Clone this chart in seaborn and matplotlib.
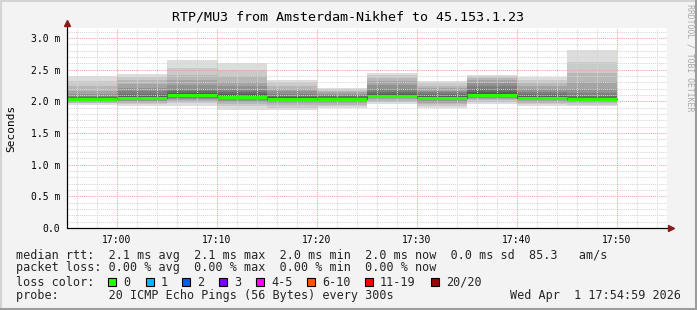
import numpy as np
import pandas as pd
import matplotlib
matplotlib.use("Agg")
import matplotlib.pyplot as plt
import seaborn as sns
from matplotlib.lines import Line2D
from matplotlib.patches import Rectangle

# ---------------- data ----------------
title = "RTP/MU3 from Amsterdam-Nikhef to 45.153.1.23"
y_label = "Seconds"
bar_start_min = [-5, 0, 5, 10, 15, 20, 25, 30, 35, 40, 45]   # minutes relative to 17:00
bar_len_min = 5

# 20 sorted ping RTTs (ms) per 5-minute step
pings_ms = [
    [1.95, 1.97, 1.98, 1.99, 2.00, 2.01, 2.01, 2.02, 2.02, 2.03, 2.03, 2.04, 2.05, 2.07, 2.09, 2.12, 2.17, 2.24, 2.32, 2.40],
    [1.93, 1.96, 1.98, 2.00, 2.01, 2.02, 2.03, 2.04, 2.05, 2.06, 2.06, 2.07, 2.09, 2.12, 2.16, 2.21, 2.27, 2.33, 2.39, 2.43],
    [1.93, 1.97, 2.00, 2.02, 2.04, 2.06, 2.07, 2.08, 2.09, 2.10, 2.10, 2.11, 2.13, 2.16, 2.20, 2.26, 2.33, 2.42, 2.52, 2.65],
    [1.86, 1.92, 1.96, 1.99, 2.01, 2.03, 2.04, 2.05, 2.06, 2.07, 2.07, 2.09, 2.11, 2.14, 2.18, 2.24, 2.31, 2.40, 2.50, 2.61],
    [1.86, 1.90, 1.94, 1.97, 1.99, 2.00, 2.01, 2.02, 2.03, 2.04, 2.04, 2.05, 2.07, 2.09, 2.12, 2.16, 2.20, 2.25, 2.30, 2.34],
    [1.89, 1.92, 1.95, 1.97, 1.99, 2.00, 2.01, 2.02, 2.03, 2.04, 2.04, 2.05, 2.06, 2.08, 2.10, 2.12, 2.14, 2.16, 2.19, 2.21],
    [1.96, 1.99, 2.01, 2.03, 2.05, 2.06, 2.07, 2.08, 2.08, 2.09, 2.09, 2.10, 2.12, 2.15, 2.20, 2.26, 2.32, 2.37, 2.42, 2.45],
    [1.89, 1.93, 1.96, 1.98, 2.00, 2.02, 2.03, 2.04, 2.05, 2.06, 2.06, 2.07, 2.09, 2.11, 2.14, 2.17, 2.21, 2.25, 2.29, 2.32],
    [1.96, 1.99, 2.02, 2.04, 2.06, 2.07, 2.08, 2.09, 2.09, 2.10, 2.10, 2.12, 2.15, 2.19, 2.24, 2.29, 2.33, 2.37, 2.40, 2.42],
    [1.93, 1.96, 1.98, 2.00, 2.02, 2.03, 2.04, 2.04, 2.05, 2.05, 2.05, 2.06, 2.08, 2.11, 2.15, 2.20, 2.25, 2.29, 2.34, 2.39],
    [1.92, 1.95, 1.97, 1.99, 2.00, 2.01, 2.02, 2.02, 2.03, 2.03, 2.03, 2.04, 2.06, 2.09, 2.13, 2.20, 2.31, 2.45, 2.62, 2.81],
]
median_ms = [2.03, 2.06, 2.10, 2.07, 2.04, 2.04, 2.09, 2.06, 2.10, 2.05, 2.03]

x_ticks = [0, 10, 20, 30, 40, 50]
x_tick_labels = ["17:00", "17:10", "17:20", "17:30", "17:40", "17:50"]
y_ticks = [0.0, 0.5, 1.0, 1.5, 2.0, 2.5, 3.0]
y_tick_labels = ["0.0", "0.5 m", "1.0 m", "1.5 m", "2.0 m", "2.5 m", "3.0 m"]

line_rtt = "median rtt:  2.1 ms avg  2.1 ms max  2.0 ms min  2.0 ms now  0.0 ms sd  85.3   am/s"
line_loss = "packet loss: 0.00 % avg  0.00 % max  0.00 % min  0.00 % now"
line_lc = "loss color:"
loss_labels = ["0", "1", "2", "3", "4-5", "6-10", "11-19", "20/20"]
loss_colors = ["#26ff00", "#00b8ff", "#0059ff", "#7e00ff", "#ff00ff", "#ff5500", "#ff0000", "#a10000"]
line_probe = "probe:       20 ICMP Echo Pings (56 Bytes) every 300s"
timestamp = "Wed Apr  1 17:54:59 2026"
credit = "RRDTOOL / TOBI OETIKER"

# ---------------- figure ----------------
W, H = 697, 310
sns.set_style("white")
plt.rcParams["font.family"] = ["DejaVu Sans Mono", "DejaVu Sans"]

fig = plt.figure(figsize=(W / 100, H / 100), dpi=100, facecolor="#f3f3f3")

def fx(x):
    return x / W

def fy(y):
    return 1 - y / H

L, R, T, B = 67, 667, 28, 228
ax = fig.add_axes([fx(L), fy(B), (R - L) / W, (B - T) / H])
ax.set_facecolor("white")
ymax = (B - T) / 63.33
ax.set_xlim(-5, 55)
ax.set_ylim(0, ymax)

# smoke
P = np.sort(np.array(pings_ms), axis=1)
n = P.shape[1]
half = n // 2
edges = np.array(bar_start_min + [bar_start_min[-1] + bar_len_min], dtype=float)
for i in range(half):
    shade = int(190 / half * (half - (i + 1))) + 50
    col = "#%02x%02x%02x" % (shade, shade, shade)
    lo = np.append(P[:, i], P[-1, i])
    hi = np.append(P[:, n - 1 - i], P[-1, n - 1 - i])
    ax.fill_between(edges, lo, hi, step="post", color=col, lw=0, zorder=1)

# grid (drawn over smoke, as in rrdtool)
minor_kw = dict(color="#d6d6d6", lw=0.75, ls=(0, (1, 1)), zorder=2)
major_kw = dict(color="#f2a0a0", lw=0.75, ls=(0, (1, 1)), zorder=2)
for k in range(1, int(ymax * 10) + 1):
    v = k / 10
    if k % 5 == 0:
        ax.axhline(v, **major_kw)
    else:
        ax.axhline(v, **minor_kw)
for m in range(-4, 55, 2):
    if m % 10 == 0:
        ax.axvline(m, **major_kw)
    else:
        ax.axvline(m, **minor_kw)

# median: thin dark step line + loss-coloured segments
med_ext = np.append(median_ms, median_ms[-1])
sns.lineplot(x=edges, y=med_ext, drawstyle="steps-post", color="#202020",
             lw=0.75, estimator=None, ax=ax, zorder=4, legend=False)
seg = pd.DataFrame({
    "t": np.concatenate([[s, s + bar_len_min] for s in bar_start_min]),
    "ms": np.repeat(median_ms, 2),
    "bar": np.repeat(np.arange(len(median_ms)), 2),
})
sns.lineplot(data=seg, x="t", y="ms", units="bar", estimator=None, color=loss_colors[0],
             lw=2.2, ax=ax, zorder=5, legend=False, solid_capstyle="butt")

# axes styling
for s in ["top", "right"]:
    ax.spines[s].set_visible(False)
for s in ["left", "bottom"]:
    ax.spines[s].set_color("black")
    ax.spines[s].set_linewidth(0.8)
    ax.spines[s].set_zorder(6)
ax.set_xticks(x_ticks, x_tick_labels)
ax.set_yticks(y_ticks, y_tick_labels)
ax.tick_params(axis="both", direction="out", length=2, width=0.7, labelsize=7,
               colors="black", pad=3)
ax.set_xlabel("")
ax.set_ylabel("")

# axis arrows
fig.add_artist(Line2D([fx(L), fx(L)], [fy(B), fy(24)], color="black", lw=0.8))
fig.add_artist(Line2D([fx(L), fx(670)], [fy(B), fy(B)], color="black", lw=0.8))
fig.add_artist(Line2D([fx(L)], [fy(23)], marker="^", markersize=4.5, color="#8b1a1a", lw=0))
fig.add_artist(Line2D([fx(671)], [fy(B)], marker=">", markersize=4.5, color="#8b1a1a", lw=0))

# texts
fig.text(fx(348), fy(17), title, ha="center", va="center", fontsize=9.6, color="black")
fig.text(fx(11), fy(128), y_label, ha="center", va="center", rotation=90, fontsize=8, color="black")
fig.text(fx(690), fy(4), credit, ha="center", va="top", rotation=270, fontsize=5.9, color="#a8a8a8")

fs = 8.5
fig.text(fx(16), fy(255), line_rtt, ha="left", va="center", fontsize=fs)
fig.text(fx(16), fy(268), line_loss, ha="left", va="center", fontsize=fs)
fig.text(fx(16), fy(282), line_lc, ha="left", va="center", fontsize=fs)
fig.text(fx(16), fy(296), line_probe, ha="left", va="center", fontsize=fs)
fig.text(fx(681), fy(296), timestamp, ha="right", va="center", fontsize=fs)

box_x = [108, 146, 182, 219, 256, 307, 365, 431]
for bx, lab, c in zip(box_x, loss_labels, loss_colors):
    fig.add_artist(Rectangle((fx(bx), fy(286)), 8 / W, 8 / H, facecolor=c,
                             edgecolor="black", lw=0.8, transform=fig.transFigure))
    fig.text(fx(bx + 15), fy(282), lab, ha="left", va="center", fontsize=fs)

# 3D-ish frame
fig.add_artist(Line2D([0, 1], [fy(0.5), fy(0.5)], color="#d4d4d4", lw=1.5))
fig.add_artist(Line2D([fx(0.5), fx(0.5)], [0, 1], color="#d4d4d4", lw=1.5))
fig.add_artist(Line2D([0, 1], [fy(H - 1), fy(H - 1)], color="#9c9c9c", lw=2.2))
fig.add_artist(Line2D([fx(W - 1), fx(W - 1)], [0, 1], color="#9c9c9c", lw=2.2))

fig.savefig("out.png", dpi=100, facecolor=fig.get_facecolor())
